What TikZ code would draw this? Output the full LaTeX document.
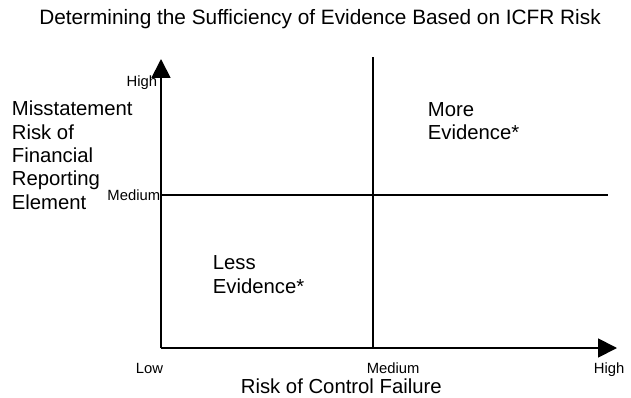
\documentclass[tikz,border=0pt]{standalone}
\usepackage{fontspec}
\setmainfont{Liberation Sans}
\usetikzlibrary{arrows.meta}

\begin{document}
\begin{tikzpicture}[x=1pt,y=-1pt,line width=1.8pt,
>={Triangle[length=19pt,width=19pt]},
big label/.style={inner sep=0pt,anchor=base west,align=left,font=\fontsize{20.3}{23.3}\selectfont},
tick label/.style={inner sep=0pt,anchor=base west,font=\fontsize{14.8}{16}\selectfont},
title label/.style={inner sep=0pt,anchor=base,font=\fontsize{20.8}{24}\selectfont}]
\useasboundingbox (0,0) rectangle (631,398);

%Points
\coordinate (origin) at (161,348);
\coordinate (ytip) at (161,59);
\coordinate (xtip) at (617,348);
\coordinate (midtop) at (373,57);
\coordinate (midbot) at (373,348);
\coordinate (midleft) at (161,195);
\coordinate (midright) at (608,195);

%Title
\node[title label] (title) at (320,25) {Determining the Sufficiency of Evidence Based on ICFR Risk};

%Axes
\draw[->] (origin) -- (ytip);
\draw[->] (origin) -- (xtip);
\draw (midbot) -- (midtop);
\draw (midleft) -- (midright);

%Axis labels (multi-line nodes sit on their last line)
\node[big label] (ylabel) at (11,209) {Misstatement\\Risk of\\Financial\\Reporting\\Element};
\node[big label] (xlabel) at (240,393) {Risk of Control Failure};
\node[tick label,anchor=base east] (yhigh) at (158,87) {High};
\node[tick label,anchor=base east] (ymed) at (161,200) {Medium};
\node[tick label] (xlow) at (135,373) {Low};
\node[tick label] (xmed) at (366,373) {Medium};
\node[tick label] (xhigh) at (593,373) {High};

%Quadrants
\node[big label] (more) at (427,140) {More\\Evidence*};
\node[big label] (less) at (212,293) {Less\\Evidence*};
\end{tikzpicture}
\end{document}
